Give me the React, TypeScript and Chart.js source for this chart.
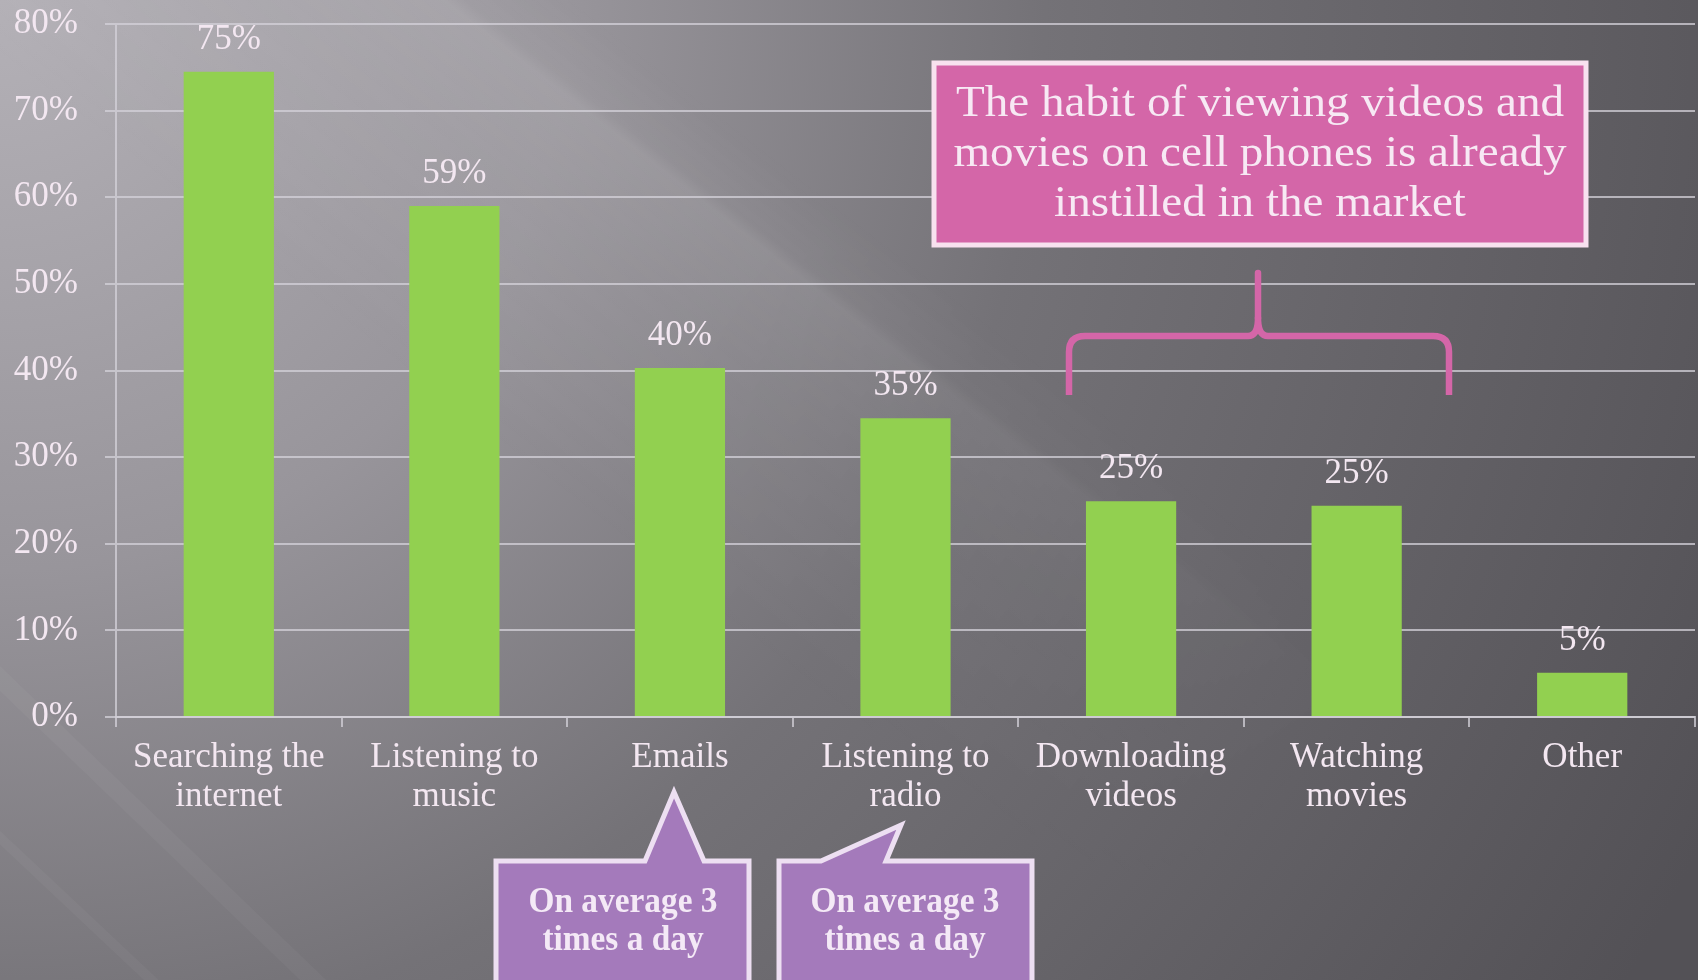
import React, { useEffect, useRef } from "react";
import { Chart, registerables } from "chart.js";

Chart.register(...registerables);

const categories: string[][] = [
  ["Searching the", "internet"],
  ["Listening to", "music"],
  ["Emails"],
  ["Listening to", "radio"],
  ["Downloading", "videos"],
  ["Watching", "movies"],
  ["Other"],
];
const values: number[] = [74.5, 59.0, 40.3, 34.5, 24.9, 24.4, 5.1];
const valueLabels: string[] = ["75%", "59%", "40%", "35%", "25%", "25%", "5%"];
const yTicks: number[] = [0, 10, 20, 30, 40, 50, 60, 70, 80];
const boxLines: string[] = [
  "The habit of viewing videos and",
  "movies on cell phones is already",
  "instilled in the market",
];
const calloutLines: string[] = ["On average 3", "times a day"];

const W = 1698;
const H = 980;
const SERIF = "'Liberation Serif', 'DejaVu Serif', serif";
const TEXT = "#f3e7f1";

function drawBackground(ctx: CanvasRenderingContext2D) {
  ctx.save();
  const rg = ctx.createRadialGradient(0, 0, 0, 0, 0, 1900);
  rg.addColorStop(0, "#b4b1b7");
  rg.addColorStop(0.3, "#98959b");
  rg.addColorStop(0.55, "#747277");
  rg.addColorStop(1, "#535156");
  ctx.fillStyle = rg;
  ctx.fillRect(0, 0, W, H);
  ctx.restore();

  // diagonal light band (offscreen, masked along its length)
  const off = document.createElement("canvas");
  off.width = W;
  off.height = H;
  const o = off.getContext("2d")!;
  const ang = Math.atan2(233, 300);
  o.save();
  o.translate(444, 0);
  o.rotate(ang);
  const bg = o.createLinearGradient(0, -80, 0, 320);
  bg.addColorStop(0, "rgba(255,255,255,0)");
  bg.addColorStop(0.17, "rgba(255,255,255,0.04)");
  bg.addColorStop(0.2, "rgba(255,255,255,0.10)");
  bg.addColorStop(0.45, "rgba(255,255,255,0.06)");
  bg.addColorStop(1, "rgba(255,255,255,0)");
  o.fillStyle = bg;
  o.fillRect(-700, -80, 2200, 400);
  o.globalCompositeOperation = "destination-in";
  const al = o.createLinearGradient(-700, 0, 1500, 0);
  al.addColorStop(0, "rgba(0,0,0,1)");
  al.addColorStop(0.5, "rgba(0,0,0,1)");
  al.addColorStop(0.85, "rgba(0,0,0,0)");
  o.fillStyle = al;
  o.fillRect(-700, -100, 2200, 440);
  o.restore();
  ctx.drawImage(off, 0, 0);

  // faint streaks at bottom-left
  ctx.save();
  const streaks = [
    [-40, 640, 500, 1160, 18],
    [-40, 800, 300, 1120, 10],
  ];
  for (const s of streaks) {
    ctx.strokeStyle = "rgba(255,255,255,0.035)";
    ctx.lineWidth = s[4];
    ctx.beginPath();
    ctx.moveTo(s[0], s[1]);
    ctx.lineTo(s[2], s[3]);
    ctx.stroke();
  }
  ctx.restore();
}

function fitText(
  ctx: CanvasRenderingContext2D,
  lines: string[],
  font: string,
  cx: number,
  ys: number[],
  refWidth: number,
  color: string
) {
  ctx.save();
  ctx.font = font;
  ctx.fillStyle = color;
  ctx.textAlign = "center";
  ctx.textBaseline = "middle";
  const sx = refWidth / ctx.measureText(lines[0]).width;
  lines.forEach((t, i) => {
    ctx.save();
    ctx.translate(cx, ys[i]);
    ctx.scale(sx, 1);
    ctx.fillText(t, 0, 0);
    ctx.restore();
  });
  ctx.restore();
}

function drawAnnotations(ctx: CanvasRenderingContext2D) {
  // pink box
  ctx.save();
  ctx.fillStyle = "#d466a8";
  ctx.strokeStyle = "#f8e1ef";
  ctx.lineWidth = 5;
  ctx.fillRect(934, 63, 652, 182);
  ctx.strokeRect(934, 63, 652, 182);
  ctx.restore();
  fitText(ctx, boxLines, `44px ${SERIF}`, 1260, [104, 154, 204], 608, "#f7e9f4");

  // brace
  ctx.save();
  ctx.strokeStyle = "#d466a8";
  ctx.lineWidth = 6.5;
  ctx.lineJoin = "round";
  const cx = 1258, top = 273, hy = 336, L = 1069, R = 1449, bot = 395, r = 16;
  ctx.beginPath();
  ctx.moveTo(L, bot);
  ctx.lineTo(L, hy + r);
  ctx.quadraticCurveTo(L, hy, L + r, hy);
  ctx.lineTo(cx - 10, hy);
  ctx.quadraticCurveTo(cx, hy, cx, hy - 18);
  ctx.quadraticCurveTo(cx, hy, cx + 10, hy);
  ctx.lineTo(R - r, hy);
  ctx.quadraticCurveTo(R, hy, R, hy + r);
  ctx.lineTo(R, bot);
  ctx.stroke();
  ctx.lineCap = "round";
  ctx.beginPath();
  ctx.moveTo(cx, hy - 18);
  ctx.lineTo(cx, top);
  ctx.stroke();
  ctx.restore();

  // callouts
  const callouts = [
    { pts: [[496, 861], [645, 861], [674, 792], [704, 861], [749, 861], [749, 1000], [496, 1000]], cx: 623 },
    { pts: [[779, 861], [821, 861], [901, 825], [886, 861], [1032, 861], [1032, 1000], [779, 1000]], cx: 905 },
  ];
  for (const c of callouts) {
    ctx.save();
    ctx.fillStyle = "#a47abb";
    ctx.strokeStyle = "#eddff2";
    ctx.lineWidth = 5;
    ctx.lineJoin = "miter";
    ctx.beginPath();
    c.pts.forEach((p, i) => (i === 0 ? ctx.moveTo(p[0], p[1]) : ctx.lineTo(p[0], p[1])));
    ctx.closePath();
    ctx.fill();
    ctx.stroke();
    ctx.restore();
    fitText(ctx, calloutLines, `bold 35px ${SERIF}`, c.cx, [903, 941], 189, "#f4e9f6");
  }
}

export default function App() {
  const ref = useRef<HTMLCanvasElement | null>(null);
  useEffect(() => {
    document.body.style.margin = "0";
    const canvas = ref.current!;
    const gridColor = "rgba(212,209,217,0.75)";
    const chart = new Chart(canvas, {
      type: "bar",
      data: {
        labels: categories,
        datasets: [
          {
            data: values,
            backgroundColor: "#92d050",
            borderWidth: 0,
            categoryPercentage: 1,
            barPercentage: 0.4,
          },
        ],
      },
      options: {
        animation: false,
        responsive: false,
        devicePixelRatio: 1,
        layout: { padding: { top: 24, right: 3, bottom: 0, left: 0 } },
        plugins: { legend: { display: false }, tooltip: { enabled: false } },
        scales: {
          x: {
            offset: true,
            grid: {
              display: true,
              drawOnChartArea: false,
              drawTicks: true,
              tickLength: 10,
              color: gridColor,
              lineWidth: 2,
              offset: true,
            },
            border: { display: true, color: gridColor, width: 2 },
            ticks: {
              color: TEXT,
              font: { family: SERIF, size: 35, lineHeight: 1.1 },
              padding: 12,
              maxRotation: 0,
              autoSkip: false,
            },
            afterFit: (s: any) => {
              s.height = H - 717;
              s.paddingLeft = 0;
              s.paddingRight = 0;
            },
          },
          y: {
            min: 0,
            max: 80,
            afterBuildTicks: (s: any) => {
              s.ticks = yTicks.map((v) => ({ value: v }));
            },
            grid: {
              color: gridColor,
              lineWidth: 2,
              tickLength: 11,
              drawTicks: true,
            },
            border: { display: true, color: gridColor, width: 2 },
            ticks: {
              color: TEXT,
              font: { family: SERIF, size: 35 },
              padding: 27,
              callback: (v: any) => `${v}%`,
            },
            afterFit: (s: any) => {
              s.width = 116;
              s.paddingTop = 0;
              s.paddingBottom = 0;
            },
          },
        },
      },
      plugins: [
        {
          id: "bg",
          beforeDraw: (c: any) => drawBackground(c.ctx),
        },
        {
          id: "valueLabels",
          afterDatasetsDraw: (c: any) => {
            const ctx = c.ctx as CanvasRenderingContext2D;
            const meta = c.getDatasetMeta(0);
            ctx.save();
            ctx.font = `35px ${SERIF}`;
            ctx.fillStyle = TEXT;
            ctx.textAlign = "center";
            ctx.textBaseline = "alphabetic";
            meta.data.forEach((bar: any, i: number) => {
              ctx.fillText(valueLabels[i], bar.x, bar.y - 23);
            });
            ctx.restore();
          },
        },
        {
          id: "annotations",
          afterDraw: (c: any) => drawAnnotations(c.ctx),
        },
      ],
    } as any);
    return () => chart.destroy();
  }, []);
  return (
    <div style={{ width: W, height: H }}>
      <canvas ref={ref} width={W} height={H} style={{ display: "block", width: W, height: H }} />
    </div>
  );
}
